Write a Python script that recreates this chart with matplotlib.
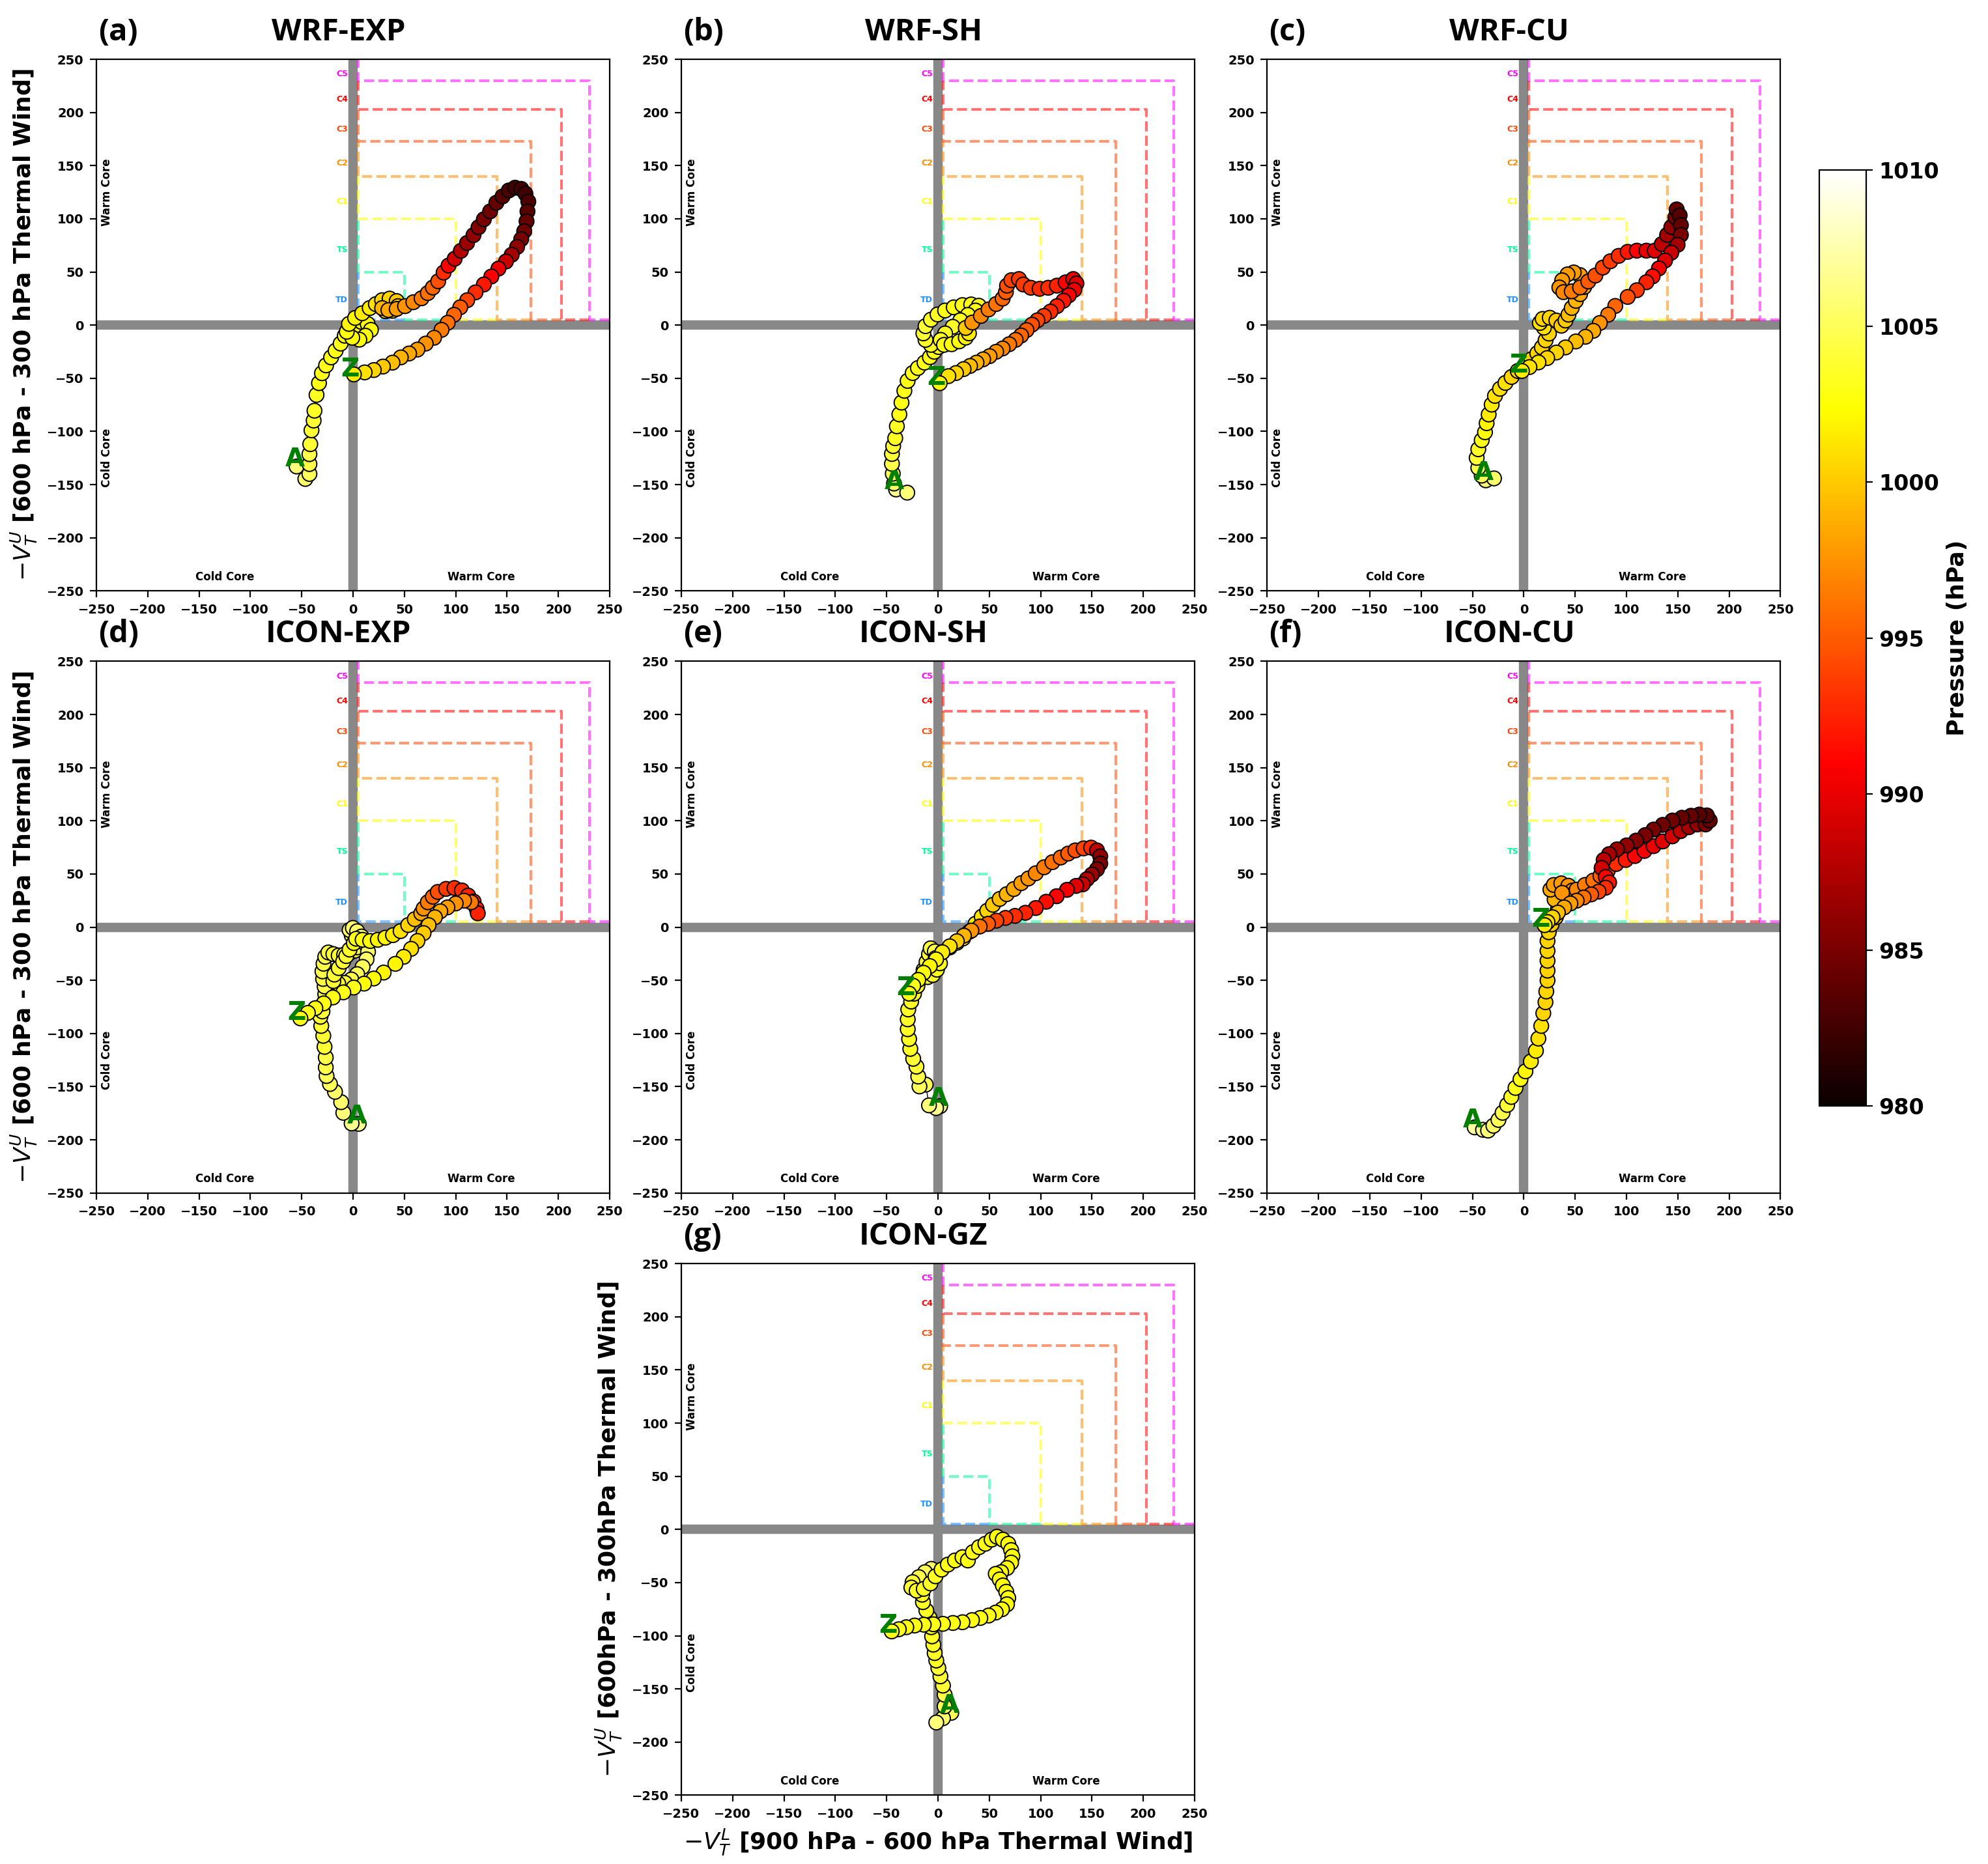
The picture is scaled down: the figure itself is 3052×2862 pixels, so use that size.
import matplotlib
matplotlib.use('Agg')
import matplotlib.pyplot as plt
from matplotlib import font_manager

# ---- storm track data: (-VTL, -VTU) with central pressure (hPa) ----
wrf_exp_x = [-55, -46.5, -42.5, -42.5, -42.5, -41.7, -40.5, -38.4, -37.6, -35.6,
             -33.2, -30.3, -26.3, -21.4, -17, -12.1, -8.1, -4.9, 2, 8.1,
             14.2, 17.4, 12.1, 6.1, -0.8, -6.1, -4, 2, 8.9, 16.2,
             22.2, 28.3, 35.6, 42.5, 43.7, 38.4, 31.6, 28.3, 34.4, 42.5,
             50.6, 58.7, 66.7, 72.8, 77.7, 82.9, 88.2, 93, 99, 105,
             111, 117.3, 122.2, 127.4, 133.5, 139.6, 145.6, 151.7, 157.8, 163.8,
             167.9, 170.7, 169.9, 169, 166.7, 163.8, 159.8, 154.5, 148.9, 141.6,
             134.7, 127.4, 119.3, 111.2, 104.4, 98.3, 92.2, 86.2, 78.9, 70.8,
             62.7, 54.6, 46.5, 38.4, 29.1, 20.2, 11.3, 0.8]
wrf_exp_y = [-133, -144.7, -140, -130.7, -121.4, -112, -99, -89.8, -80.5, -65.7,
             -54.6, -45.3, -37.9, -30.4, -24.1, -17.4, -10, -4.5, -0.7, 3,
             1.1, -4.5, -10, -13.7, -11.9, -6.3, 1.1, 6.7, 11.1, 16,
             19.7, 23.4, 24.9, 22.6, 17.8, 13.4, 13, 16, 14.1, 15.2,
             17.8, 21.5, 25.2, 30.1, 35.3, 41.2, 49.4, 56, 62.4, 69.8,
             77.2, 84.6, 92, 99.5, 106.9, 115.1, 121, 126.6, 129.2, 128.1,
             123.6, 116.2, 106.9, 97.6, 88.3, 80.8, 73.5, 66.1, 59.8, 53.1,
             45.7, 38.2, 30.8, 23.4, 16.7, 9.7, 2.2, -4.5, -11.9, -17.4,
             -23, -26.7, -30.4, -35.3, -39, -42.3, -44.5, -46.4]
wrf_exp_p = [1006, 1005.5, 1005, 1004.5, 1004.5, 1004, 1004, 1004, 1003.5, 1003.5,
             1003, 1003, 1003, 1003, 1003, 1003, 1003, 1002.5, 1002.5, 1002.5,
             1002.5, 1002.5, 1002.5, 1002.5, 1002.5, 1002.5, 1002, 1002, 1001.5, 1001.5,
             1001, 1000.5, 1000.5, 1000, 1000, 999.5, 999.5, 999, 998.5, 998,
             997.5, 997, 996.5, 996, 995.5, 994.5, 993, 991, 989, 987.5,
             986.5, 986, 985.5, 985, 984.5, 984, 983.5, 983, 982.5, 982.5,
             982.5, 983, 983.5, 984, 984.5, 985, 986, 987, 988.5, 990,
             991, 992, 993, 994, 995, 995.5, 996, 996.5, 997, 997.5,
             998, 998.5, 999, 999.5, 1000, 1000.5, 1001, 1001.5]

wrf_sh_x = [-40.8, -29.9, -42.8, -44, -44.8, -44.8, -43.6, -41.6, -40, -37.6,
            -35.5, -32.7, -29.5, -24.6, -19.5, -13.1, -7.8, -3.6, 0.6, -6.8,
            -12.1, -14.2, -12.1, -6.8, -0.4, 7, 15.4, 23.9, 32.4, 39.8,
            36.6, 29.2, 21.8, 14.4, 7, 2.7, 5.9, 13.3, 20.7, 27.1,
            30.2, 27.1, 33.4, 41.9, 49.3, 56.7, 63, 66.2, 67.3, 71.5,
            78.9, 83.1, 90.5, 99, 107.4, 115.9, 124.4, 131.8, 134.9, 132.8,
            127.5, 122.3, 115.9, 109.6, 103.2, 96.9, 91.6, 86.3, 81, 75.7,
            69.4, 63, 56.7, 50.3, 44, 37.6, 31.3, 25, 17.6, 10.2, 1.7]
wrf_sh_y = [-154.6, -157.6, -149, -139.8, -130.5, -121.2, -113.8, -106.4, -95.2, -84,
            -72.9, -61.8, -52.5, -45.1, -40.4, -35.3, -30.2, -25.1, -20.6, -18.6,
            -13.9, -7.8, -1, 5.1, 10, 13.7, 16.7, 18.8, 19.4, 18.2,
            13.7, 9.6, 4.5, -1.6, -7.8, -13.9, -18.6, -18, -15.3, -11.8,
            -7.8, -2.7, 2.4, 8.6, 14.7, 19.8, 24.9, 31, 37.1, 42.2,
            43.3, 38.2, 35.1, 34.1, 35.1, 37.1, 40.2, 43.3, 39.2, 33.1,
            28, 22.9, 17.8, 12.7, 8.6, 4.5, 0.4, -4.7, -9.8, -13.9,
            -18, -22, -25.1, -29.2, -32.2, -35.3, -38.4, -41.4, -45.1, -48, -54.7]
wrf_sh_p = [1006.5, 1006, 1005.5, 1005, 1004.5, 1004, 1004, 1003.5, 1003.5, 1003,
            1003, 1003, 1003, 1003, 1003, 1003, 1003, 1003, 1003, 1003.5,
            1003.5, 1004, 1004, 1003.5, 1003.5, 1003, 1003, 1003, 1003, 1003,
            1003, 1003, 1003.5, 1003.5, 1003.5, 1003.5, 1003, 1002.5, 1002.5, 1002,
            1001.5, 1000, 997.5, 997, 996.5, 996, 995.5, 995, 994.5, 994,
            993.5, 993.5, 993.5, 993, 993, 992.5, 991, 990, 989.5, 990,
            991, 992, 992.5, 993, 993.5, 994, 994.5, 995, 995.5, 996,
            996.5, 997, 997.5, 998, 998.5, 999, 999.5, 1000, 1000.5, 1001, 1002]

wrf_cu_x = [-37, -29, -41, -44.3, -45.9, -44.3, -41, -37.8, -36.2, -34.2,
            -31.3, -28.1, -23.2, -17.9, -11.9, -5.9, 1, 7.5, 13.1, 17.6,
            21.2, 24.5, 19.6, 15.6, 18.4, 25.3, 31.7, 36.6, 40.6, 43.5,
            46.7, 50.7, 54.8, 58.8, 58.8, 54.8, 48.7, 42.6, 37.4, 34.6,
            38.6, 46.7, 54.8, 62.8, 69.7, 77, 84.3, 92.4, 101.2, 110.1,
            119.4, 127.5, 134.4, 139.6, 143.7, 147.7, 148.9, 151.8, 153, 153,
            149.8, 143.7, 137.6, 131.6, 125.5, 119.4, 110.1, 101.2, 89.1, 82.2,
            74.1, 67.7, 60, 50.7, 40.6, 31.7, 22.8, 14.3, 5.5, -1.8]
wrf_cu_y = [-146, -144.2, -141.6, -134.2, -124.9, -116.8, -108.3, -100.8, -92.3, -84.1,
            -74.8, -66.6, -59.9, -54.4, -48.8, -43.2, -37.7, -32.1, -26.5, -21,
            -14.3, -8, -2.4, 2, 5.8, 6.9, 4.3, -0.6, 4.3, 9.8,
            16.1, 22.8, 29.1, 35.8, 41.4, 47, 49.5, 47.7, 42.1, 35.4,
            31, 31.7, 35.4, 41, 46.6, 54.1, 60, 65.1, 68.9, 70,
            70, 70, 76.2, 84.8, 92.2, 101.4, 108.8, 103.2, 94, 84.8,
            75.5, 68.1, 60.7, 53.3, 45.8, 40.3, 32.8, 26.5, 18, 9.8,
            2, -5.4, -11, -15.4, -21, -25.8, -31, -35.1, -39.5, -43.2]
wrf_cu_p = [1006, 1005.5, 1005, 1004.5, 1004, 1003.5, 1003, 1002.5, 1002, 1001.5,
            1001.5, 1001, 1001, 1001, 1000.5, 1000.5, 1000.5, 1000.5, 1000.5, 1000.5,
            1000.5, 1000.5, 1001, 1001, 1000.5, 1000.5, 1000, 1000, 1000, 999.5,
            999, 999, 998.5, 998.5, 998, 998, 998, 998, 998, 997.5,
            997, 996.5, 996, 995, 994.5, 994, 993.5, 993, 992, 991,
            990, 989.5, 988, 987, 986, 985, 984, 983.5, 984, 985,
            987, 988.5, 989.5, 990.5, 991.5, 992.5, 993.5, 994.5, 995.5, 996.5,
            997.5, 998.5, 999, 999.5, 1000, 1000.5, 1000.5, 1001, 1001, 1001.5]

icon_exp_x = [5.5, -1.4, -9.5, -11.6, -17.6, -22.5, -25.8, -26.6, -26.6, -27.8,
              -29, -31, -31.8, -29.8, -28.3, -27.1, -27.7, -29.2, -29.8, -28.8,
              -27.1, -24.1, -19.2, -14, -8.7, -3.4, 1.9, 4, 1.9, -1.3,
              -3.4, -0.2, 4, 8.2, 12.5, 14.6, 13.1, 9.3, 4, -1.7,
              -8, -14.4, -19.2, -18.2, -14, -9.7, -6.6, -3.4, 0.8, 3,
              9.3, 16.7, 24.1, 31.5, 38.9, 46.3, 53.7, 60.1, 66.4, 68.7,
              72.8, 77.7, 82.5, 90.6, 98.7, 106, 112.1, 117.4, 120.3, 121.5,
              115, 108.1, 100, 91.9, 85, 79.7, 73.6, 68.7, 62.7, 56.6,
              49.3, 41.2, 29.8, 20.1, 10.7, 0.6, -9.5, -19.7, -28.6, -36.7,
              -44, -51.3]
icon_exp_y = [-185, -184.6, -174.6, -164.6, -154.9, -147.5, -140, -131.9, -122.6, -112.6,
              -102.2, -92.9, -84.3, -79.3, -71.2, -63, -55.8, -48.7, -41.6, -34.4,
              -27.9, -23.8, -25.3, -26.6, -25.8, -24.2, -22.1, -19, -14, -7.8,
              -2.7, -0.7, -3.8, -8.8, -16, -23.2, -30.3, -37.4, -44.2, -49.2,
              -52.4, -53.2, -50.7, -44.6, -38.5, -32.4, -27.2, -21.1, -15, -10.9,
              -11.9, -13, -11.9, -9.9, -7.5, -3.7, 2, 7.5, 13, 17.5,
              23.4, 28.6, 33.1, 36, 36.8, 34.5, 29.7, 24.1, 17.5, 13,
              23.4, 24.9, 22.3, 18.6, 14.9, 9.3, 1.9, -5.6, -13, -20.4,
              -27.9, -34.5, -42.7, -48.3, -53.1, -56.8, -61.3, -66.1, -71.7, -76.2,
              -80.6, -85.8]
icon_exp_p = [1006.5, 1006.5, 1006, 1005.5, 1005.5, 1005, 1005, 1004.5, 1004.5, 1004,
              1004, 1004, 1004, 1004, 1004, 1004, 1004.5, 1004.5, 1004.5, 1004.5,
              1004.5, 1004.5, 1004, 1004, 1004, 1004, 1004, 1004.5, 1005, 1005.5,
              1005.5, 1005.5, 1005.5, 1005.5, 1005.5, 1005.5, 1005.5, 1005, 1005, 1004.5,
              1004, 1004, 1004, 1004, 1004, 1004, 1004, 1003.5, 1003, 1003,
              1002.5, 1002.5, 1002, 1002, 1001.5, 1001, 1000.5, 999.5, 998.5, 997.5,
              996.5, 995.5, 994.5, 993.5, 993, 993, 992.5, 992.5, 992.5, 992.5,
              996.5, 997, 997.5, 998, 998.5, 999, 999.5, 1000, 1000.5, 1001,
              1001.5, 1002, 1002, 1002.5, 1002.5, 1003, 1003, 1003, 1003, 1003,
              1003, 1003]

icon_sh_x = [2.2, -1.8, -8.7, -11.9, -18, -19.2, -20.9, -24.1, -26.9, -28.1,
             -29.4, -29.4, -28.9, -26.1, -23.3, -20, -16.8, -14, -11.1, -8.7,
             -7.1, -3, -2.2, -5.5, -10, -14, -10, -5, -1, 2,
             4.3, 11.5, 18.4, 24.5, 30.6, 36.6, 42.7, 48, 53.6, 60.1,
             67, 73.9, 81.2, 88.1, 95.3, 103.4, 111.5, 119.6, 126.9, 133.8,
             141.9, 149.2, 154.9, 158.1, 158.1, 154.9, 150, 145.1, 141.1, 134.6,
             125.7, 115.6, 105.5, 95.3, 85.2, 75.1, 65.8, 56.9, 48.8, 40.7,
             32.6, 25.3, 18.4, 11.5, 4.3, -1.8, -7.9, -14, -19.2, -24.1, -28.1]
icon_sh_y = [-168.3, -170.2, -167.6, -148.1, -149.8, -140.5, -131.2, -123.8, -114.5, -105.2,
             -96, -86.7, -77.4, -70, -62.6, -55.3, -47.7, -40.3, -32.8, -25.4,
             -19.9, -22.8, -29.1, -35.4, -40, -44, -47, -45, -40, -34,
             -23.5, -19.1, -14.7, -10.6, -4.3, 3.2, 9.8, 15.4, 21, 26.5,
             31, 35.8, 41.4, 45.8, 50.7, 56.3, 61.1, 65.5, 69.2, 72.2,
             74.1, 74.8, 72.2, 66.6, 59.9, 54.4, 49.5, 45.1, 40.3, 38.8,
             35.1, 29.1, 23.9, 18, 13.5, 10.6, 8.7, 6.1, 3.2, 0.6,
             -3.2, -8, -13.2, -18, -23.6, -30.3, -36.6, -42.9, -49.6, -55.1, -62.5]
icon_sh_p = [1006.5, 1006.5, 1006, 1005, 1005, 1004.5, 1004, 1004, 1003.5, 1003.5,
             1003.5, 1003.5, 1003.5, 1003.5, 1003.5, 1003.5, 1003.5, 1003.5, 1004, 1004,
             1004, 1004.5, 1004.5, 1004.5, 1004, 1004, 1004, 1003.5, 1003, 1003,
             1002.5, 1002.5, 1002, 1002, 1001.5, 1001.5, 1001, 1000.5, 1000, 999.5,
             999, 998.5, 998, 997.5, 997, 996.5, 996, 995.5, 995, 994.5,
             994, 993, 988, 986, 985, 985.5, 986.5, 987.5, 988.5, 989.5,
             990.5, 991, 991.5, 992, 992.5, 993, 993.5, 994, 995, 996,
             997.5, 999, 1000, 1001, 1001.5, 1002, 1002, 1002.5, 1002.5, 1003, 1003]

icon_cu_x = [-47.8, -39.7, -34.8, -29.6, -24.7, -20.7, -16.2, -12.2, -8.1, -3.2,
             1.6, 6.9, 11.8, 14.2, 17, 19, 21.1, 21.9, 23.1, 23.1,
             23.1, 23.1, 23.1, 24.3, 27.1, 31.2, 33.2, 30, 25.9, 29.2,
             36.5, 43.4, 47.4, 43.4, 37.3, 51.5, 59.6, 67.7, 74.6, 81.8,
             90, 99.3, 108.2, 117.5, 126.4, 135.3, 144.7, 152.8, 160.9, 169,
             177.1, 181.1, 178.3, 171, 162.9, 154, 144.7, 135.3, 126.4, 118.3,
             109.4, 100.1, 90.8, 83.1, 77.8, 75.8, 79.8, 83.1, 79.8, 72.9,
             65.6, 58.3, 51.5, 45.4, 39.3, 33.2, 28, 23.1, 20.3]
icon_cu_y = [-188.3, -190.6, -191.3, -186.8, -181.3, -174.6, -167.2, -159.7, -151.2, -143,
             -135.6, -126.3, -116.3, -104.8, -92.9, -81, -70.6, -60.5, -50.1, -40.9,
             -31.6, -22.3, -13, -4.8, 2.6, 9.3, 16.7, 26, 35.3, 39.7,
             41.2, 39, 34.5, 29.7, 32.3, 35.3, 39.7, 43.8, 48.3, 53.1,
             59.4, 63.2, 66.9, 71.7, 76.2, 80.6, 85.4, 90.3, 94, 96.6,
             96.6, 100.3, 105.1, 105.9, 104.8, 102.9, 100.3, 96.2, 91.8, 86.6,
             81.4, 76.9, 73.2, 68.7, 63.2, 55.7, 47.2, 42, 37.1, 33.4,
             30.8, 27.9, 24.9, 22.3, 18.6, 13.7, 9.3, 4.8, 1.9]
icon_cu_p = [1007, 1006.5, 1006, 1005.5, 1005, 1004.5, 1004, 1003.5, 1003, 1002.5,
             1002, 1001.5, 1001.5, 1001, 1001, 1000.5, 1000.5, 1000.5, 1000.5, 1000.5,
             1000.5, 1000.5, 1000.5, 1000.5, 1000, 999.5, 999.5, 999, 998.5, 998,
             998, 997.5, 997.5, 997.5, 997.5, 997, 996.5, 996, 995, 994,
             993, 992, 991, 990.5, 990, 989.5, 989, 988, 987, 986,
             985, 984, 983.5, 983.5, 984, 984, 984.5, 984.5, 985, 985,
             985.5, 986, 986.5, 987, 988, 989, 991, 992, 993, 994,
             995, 996, 997, 998, 998.5, 999.5, 1000.5, 1001, 1001.5]

icon_gz_x = [13, 4.9, -1.6, 6.5, 6.5, 4.9, 2.4, 0.4, -1.6, -3.2,
             -4.5, -5.7, -6.5, -8.1, -11.3, -14.6, -15.4, -13.8, -9.7, -4.5,
             -6.5, -12.6, -18.6, -24.7, -25.9, -20.7, -13.8, -7.3, -2.4, 3.6,
             9.7, 16.6, 23.9, 29.2, 34, 40.1, 46.2, 52.3, 57.5, 63.2,
             68.5, 71.3, 72.5, 71.3, 67.3, 61.6, 56.3, 60.2, 63.2, 66.5,
             68.5, 67.3, 62.4, 56.3, 49.4, 41.3, 33.2, 23.9, 14.6, 4.9,
             -4.5, -13.8, -22.7, -30.8, -38.1, -45]
icon_gz_y = [-172.5, -177.6, -181.6, -166.5, -155.5, -146.9, -138.2, -130.4, -123.3, -116.3,
             -108.4, -100.6, -92, -83.3, -76.3, -68.4, -61.4, -54.7, -50, -44.1,
             -37.1, -40.2, -44.9, -49.6, -54.7, -57.6, -55.9, -50.8, -44.1, -37.8,
             -33.1, -29.2, -26.1, -29.2, -21.4, -16.7, -13.5, -9.6, -6.9, -9.6,
             -13.5, -19.4, -25.3, -31.2, -36.3, -40.2, -41.8, -47, -52.7, -58.6,
             -64.5, -70.4, -75.1, -78.2, -81, -83.3, -85.3, -87.3, -88, -88.8,
             -89.2, -89.6, -90.4, -92, -93.9, -95.9]
icon_gz_p = [1005, 1005.5, 1006, 1005, 1004.5, 1004, 1004, 1004, 1003.5, 1003.5,
             1003.5, 1003.5, 1003.5, 1003.5, 1003.5, 1003.5, 1003.5, 1003.5, 1004, 1004.5,
             1005.5, 1005, 1004.5, 1004, 1004, 1003.5, 1003.5, 1003.5, 1003.5, 1003,
             1003, 1003, 1003, 1003, 1003, 1003, 1003, 1002.5, 1002.5, 1002.5,
             1002.5, 1002.5, 1002.5, 1002.5, 1002.5, 1002.5, 1002.5, 1002.5, 1002.5, 1002.5,
             1002.5, 1002.5, 1002.5, 1003, 1003, 1003, 1003, 1003, 1003, 1003,
             1003, 1003, 1003, 1003, 1003, 1003]

panel_letters = ['(a)', '(b)', '(c)', '(d)', '(e)', '(f)', '(g)']
panel_titles = ['WRF-EXP', 'WRF-SH', 'WRF-CU', 'ICON-EXP', 'ICON-SH', 'ICON-CU', 'ICON-GZ']
tracks = [(wrf_exp_x, wrf_exp_y, wrf_exp_p), (wrf_sh_x, wrf_sh_y, wrf_sh_p),
          (wrf_cu_x, wrf_cu_y, wrf_cu_p), (icon_exp_x, icon_exp_y, icon_exp_p),
          (icon_sh_x, icon_sh_y, icon_sh_p), (icon_cu_x, icon_cu_y, icon_cu_p),
          (icon_gz_x, icon_gz_y, icon_gz_p)]

# intensity categories (thermal wind thresholds)
cat_names = ['TD', 'TS', 'C1', 'C2', 'C3', 'C4', 'C5']
cat_lo = [5, 50, 100, 140, 173, 203, 230]
cat_hi = [50, 100, 140, 173, 203, 230, 250]
cat_colors = ['dodgerblue', 'mediumspringgreen', 'yellow', 'darkorange',
              'orangered', 'red', 'magenta']

ticks = [-250, -200, -150, -100, -50, 0, 50, 100, 150, 200, 250]
cbar_ticks = [980, 985, 990, 995, 1000, 1005, 1010]


def pick_bold_family(candidates):
    # first family that actually has a bold face installed
    for fam in candidates:
        try:
            path = font_manager.findfont(
                font_manager.FontProperties(family=fam, weight='bold'),
                fallback_to_default=False)
        except Exception:
            continue
        if 'bold' in path.lower():
            return fam
    return 'DejaVu Sans'


title_family = pick_bold_family(['Open Sans', 'Noto Sans', 'Roboto', 'Lato'])

plt.rcParams['font.weight'] = 'bold'
plt.rcParams['axes.labelweight'] = 'bold'
plt.rcParams['mathtext.fontset'] = 'custom'
plt.rcParams['mathtext.rm'] = 'DejaVu Sans:normal'
plt.rcParams['mathtext.it'] = 'DejaVu Sans:italic:normal'
plt.rcParams['mathtext.bf'] = 'DejaVu Sans:bold'

fig = plt.figure(figsize=(15.26, 14.31), dpi=200)

col_left = [0.0485, 0.3427, 0.6374]
row_bottom = [0.683, 0.360, 0.0369]
ax_w, ax_h = 0.2582, 0.2852
slots = [(0, 0), (0, 1), (0, 2), (1, 0), (1, 1), (1, 2), (2, 1)]

ylab = r'$-V_T^U$ [600 hPa - 300 hPa Thermal Wind]'
ylab_g = r'$-V_T^U$ [600hPa - 300hPa Thermal Wind]'
xlab_g = r'$-V_T^L$ [900 hPa - 600 hPa Thermal Wind]'

sc = None
for i, (row, col) in enumerate(slots):
    ax = fig.add_axes([col_left[col], row_bottom[row], ax_w, ax_h])
    x, y, p = tracks[i]

    ax.axhline(0, color='#888888', lw=5.2, zorder=1)
    ax.axvline(0, color='#888888', lw=5.2, zorder=1)

    for name, lo, hi, c in zip(cat_names, cat_lo, cat_hi, cat_colors):
        ax.plot([hi, lo, lo, 5, 5], [5, 5, lo, lo, hi], ls='--', lw=1.5,
                color=c, alpha=0.55, zorder=2)
        ax.text(-5, (lo + hi) / 2, name, color=c, fontsize=4.5, fontweight='bold',
                ha='right', va='top', zorder=2)

    ax.plot(x, y, color='k', lw=0.5, zorder=2.5)
    sc = ax.scatter(x, y, c=p, cmap='hot', vmin=980, vmax=1010, s=66,
                    edgecolors='k', linewidths=0.7, zorder=3)

    ax.annotate('A', (x[0], y[0]), xytext=(-1, 4), textcoords='offset points',
                color='green', fontsize=14, fontweight='bold',
                ha='center', va='center', zorder=4)
    ax.annotate('Z', (x[-1], y[-1]), xytext=(-2, 3), textcoords='offset points',
                color='green', fontsize=14, fontweight='bold',
                ha='center', va='center', zorder=4)

    ax.text(-240, 125, 'Warm Core', rotation=90, fontsize=6, ha='center', va='center')
    ax.text(-240, -125, 'Cold Core', rotation=90, fontsize=6, ha='center', va='center')
    ax.text(-125, -237, 'Cold Core', fontsize=6, ha='center', va='center')
    ax.text(125, -237, 'Warm Core', fontsize=6, ha='center', va='center')

    ax.set_xlim(-250, 250)
    ax.set_ylim(-250, 250)
    ax.set_xticks(ticks)
    ax.set_yticks(ticks)
    ax.tick_params(labelsize=7)

    ax.text(0.472, 1.0355, panel_titles[i], transform=ax.transAxes,
            family=title_family, fontsize=17, fontweight='bold',
            ha='center', va='baseline')
    ax.text(0.004, 1.0355, panel_letters[i], transform=ax.transAxes,
            family=title_family, fontsize=17, fontweight='bold',
            ha='left', va='baseline')

    if i in (0, 3):
        ax.set_ylabel(ylab, fontsize=13)
    if i == 6:
        ax.set_ylabel(ylab_g, fontsize=13)
        ax.set_xlabel(xlab_g, fontsize=13)

cax = fig.add_axes([0.9151, 0.4067, 0.0236, 0.502])
cb = fig.colorbar(sc, cax=cax, ticks=cbar_ticks)
cb.ax.tick_params(labelsize=12)
cb.set_label('Pressure (hPa)', fontsize=13, fontweight='bold')

fig.savefig('out.png', dpi=200)
